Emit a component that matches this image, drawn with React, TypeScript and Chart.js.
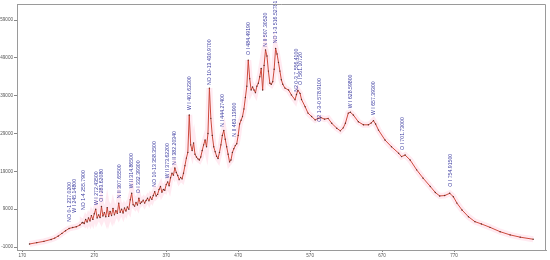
import React, { useEffect, useRef } from "react";
import { Chart, registerables } from "chart.js";

Chart.register(...registerables);

const wavelengths = [
  180, 190, 200, 210, 215, 220, 225, 230, 235, 240, 245, 250, 253,
  254, 256, 258, 260, 262, 264, 266, 268, 270, 272, 274, 276, 278, 280, 282, 284, 286, 288,
  290, 292, 294, 296, 298, 300, 302, 304, 306, 308, 310, 312, 314, 316, 318, 320, 322, 324,
  326, 328, 330, 332, 334, 336, 338, 340, 342, 344, 346, 348, 350, 352, 354, 356, 358, 360,
  362, 364, 366, 368, 370, 372, 374, 376, 378, 380, 382, 384, 386, 388, 390, 392, 394, 396,
  398, 400, 402, 404, 406, 408, 410, 412, 414, 416, 418, 420, 422, 424, 426, 428, 430, 432,
  434, 436, 438, 440, 442, 444, 446, 448, 450, 452, 454, 456, 458, 460, 462, 464, 466, 468,
  470, 472, 474, 476, 478, 480, 482, 484, 486, 488, 490, 492, 494, 496, 498, 500, 502, 504,
  506, 508, 510, 512, 514, 516, 518, 520, 522, 524, 526, 528, 530, 532, 535, 540, 544, 549,
  551, 553, 556, 558, 563, 567, 572, 577, 581, 585, 590, 595, 600, 607, 612, 616, 619, 623,
  626, 630, 637, 644, 651, 655, 658, 661, 665, 674, 683, 693, 697, 702, 709, 718, 727, 737,
  744, 750, 757, 764, 769, 774, 781, 790, 799, 808, 820, 834, 848, 862, 880,
];

const intensities = [
  -200, 150, 500, 1000, 1350, 1900, 2600, 3300, 3900, 4150, 4350, 4800, 5400,
  5500, 5200, 6300, 5600, 6700, 5900, 7300, 6300, 7800, 9000, 6700, 7500, 6800, 9700, 7200, 8100, 7000, 9400,
  7100, 8400, 7300, 9200, 7500, 8600, 7900, 10600, 8200, 9000, 8000, 9300, 8500, 9600, 9000, 11500, 13200, 10200,
  9800, 10800, 10100, 11900, 10500, 10900, 11400, 10600, 11300, 11900, 11200, 12200, 11600, 12600, 13600, 12500, 12900, 14200,
  15000, 13500, 14200, 14000, 15500, 16200, 15200, 17300, 18500, 18000, 19900, 18700, 17900, 16800, 17400, 17000, 18500, 20500,
  22500, 24000, 33900, 26000, 24500, 26500, 23500, 22800, 22300, 22000, 22800, 24500, 26000, 27300, 25500, 29000, 41000, 33000,
  28500, 25500, 24200, 23000, 22400, 24000, 26000, 28500, 29800, 27500, 25500, 23500, 21500, 22000, 24000, 25000, 25800, 26300,
  28500, 31500, 32500, 33500, 35500, 38500, 41500, 48400, 43500, 40500, 41300, 40500, 39800, 41500, 42300, 44000, 46200, 40500,
  47000, 51100, 49500, 45500, 42300, 42000, 42700, 46000, 51500, 50000, 47800, 45500, 43200, 42000, 41000, 40500, 39200, 37900,
  39300, 40400, 39600, 38000, 36100, 34400, 33500, 32600, 33000, 33200, 32800, 33000, 31700, 30400, 29700, 30500, 31700, 34400,
  34600, 33900, 32100, 31300, 31300, 31800, 32400, 31500, 29900, 27300, 25500, 23800, 22900, 23300, 22000, 19400, 17200, 15000,
  13400, 12500, 12600, 13200, 12300, 10600, 8800, 7000, 5700, 5100, 4200, 3050, 2200, 1600, 1050,
];

const lineLabels = [
  "NO 0-1 237.0200", "W I 245.14800", "NO 1-4 255.7900", "W I 272.43500", "O I 283.62080",
  "N II 307.65500", "W II 314.86500", "O I 332.39300", "NO 10-13 358.3500", "W II 373.62200",
  "N II 382.20340", "W I 401.62300", "NO 10-13 430.9700", "N I 444.27400", "N II 463.13900",
  "O I 484.49190", "N II 507.30520", "NO 1-3 516.52781", "N2 0-3 7 556.4100", "O I 561.10720",
  "O2 1-3-0 578.9100", "W I 628.59800", "W I 657.39300", "O I 701.73000", "O I 754.91500",
];

const lineX = [
  236.3, 242.3, 255.8, 273.4, 280.4, 304.8, 322, 332.2, 354.4, 371.5,
  382.2, 403.1, 429.9, 448.5, 464.7, 485.1, 508.3, 522.2, 551.4, 556.9,
  583.8, 625.5, 657.8, 698.7, 765.4,
];

const lineBase = [
  5690, 8070, 8780, 10100, 10970, 11870, 14520, 13190, 14940, 17160,
  20670, 35210, 41820, 30800, 28150, 49750, 51940, 52840, 40050, 41820,
  32120, 35660, 33890, 24640, 14940,
];

const xTicks = [170, 270, 370, 470, 570, 670, 770];
const yTicks = [-1000, 9000, 19000, 29000, 39000, 49000, 59000];

const FONT = "'Liberation Sans', Arial, sans-serif";

export default function App() {
  const ref = useRef<HTMLCanvasElement | null>(null);

  useEffect(() => {
    document.body.style.margin = "0";
    if (!ref.current) return;
    const pts = wavelengths.map((w, i) => ({ x: w, y: intensities[i] }));

    const labelPlugin = {
      id: "lineLabels",
      afterDatasetsDraw(chart: any) {
        const { ctx, scales } = chart;
        const xs = scales.x;
        const ys = scales.y;
        ctx.save();
        ctx.font = `5.2px ${FONT}`;
        ctx.fillStyle = "#3c3ca0";
        ctx.textAlign = "left";
        ctx.textBaseline = "middle";
        lineLabels.forEach((t, i) => {
          const px = xs.getPixelForValue(lineX[i]);
          const py = ys.getPixelForValue(lineBase[i]);
          ctx.save();
          ctx.translate(px, py);
          ctx.rotate(-Math.PI / 2);
          ctx.fillText(t, 0, 0);
          ctx.restore();
        });
        ctx.restore();
      },
    };

    const framePlugin = {
      id: "frame",
      afterDraw(chart: any) {
        const { ctx, chartArea: a } = chart;
        ctx.save();
        ctx.strokeStyle = "#9a9a9a";
        ctx.lineWidth = 1;
        ctx.beginPath();
        ctx.moveTo(a.left, a.top + 0.5);
        ctx.lineTo(a.right - 0.5, a.top + 0.5);
        ctx.lineTo(a.right - 0.5, a.bottom);
        ctx.stroke();
        ctx.restore();
      },
    };

    const chart = new Chart(ref.current, {
      type: "line",
      data: {
        datasets: [
          {
            data: pts,
            borderColor: "#cc4a3c",
            borderWidth: 1,
            pointRadius: 0.7,
            pointBackgroundColor: "#5a2a22",
            pointBorderWidth: 0,
            tension: 0,
          },
          {
            data: pts,
            borderColor: "rgba(255,140,175,0.18)",
            borderWidth: 6,
            pointRadius: 0,
            tension: 0,
          },
        ],
      },
      options: {
        animation: false,
        responsive: false,
        devicePixelRatio: 1,
        layout: { padding: { top: 4, right: 4, left: 0, bottom: 0 } },
        plugins: { legend: { display: false }, tooltip: { enabled: false } },
        scales: {
          x: {
            type: "linear",
            min: 162.6,
            max: 897.8,
            afterBuildTicks: (s: any) => {
              s.ticks = xTicks.map((v) => ({ value: v }));
            },
            afterFit: (s: any) => {
              s.height = 10;
            },
            ticks: {
              font: { size: 4.6, family: FONT },
              color: "#555555",
              maxRotation: 0,
              autoSkip: false,
              padding: 1,
              callback: (v: any) => String(v),
            },
            grid: { drawOnChartArea: false, tickLength: 2, color: "#888888" },
            border: { color: "#9a9a9a" },
          },
          y: {
            type: "linear",
            min: -1790,
            max: 63230,
            afterBuildTicks: (s: any) => {
              s.ticks = yTicks.map((v) => ({ value: v }));
            },
            afterFit: (s: any) => {
              s.width = 17;
            },
            ticks: {
              font: { size: 4.6, family: FONT },
              color: "#555555",
              autoSkip: false,
              padding: 1,
              callback: (v: any) => String(v),
            },
            grid: { drawOnChartArea: false, tickLength: 3, color: "#888888" },
            border: { color: "#9a9a9a" },
          },
        },
      },
      plugins: [labelPlugin, framePlugin],
    });
    return () => chart.destroy();
  }, []);

  return (
    <div style={{ width: 550, height: 260, position: "relative" }}>
      <canvas ref={ref} width={550} height={260} />
    </div>
  );
}
